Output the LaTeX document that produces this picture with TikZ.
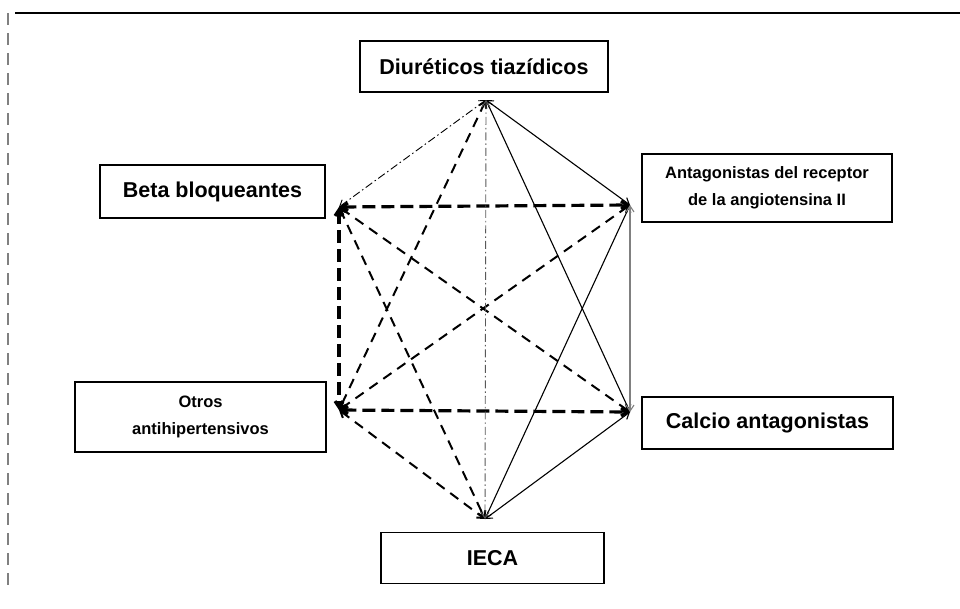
\documentclass[tikz,border=0pt]{standalone}
\usepackage{fontspec}
\setmainfont{Liberation Sans}
\usetikzlibrary{arrows.meta}
\tikzset{every picture/.style={x=1pt,y=-1pt,>={Straight Barb[length=6pt,width=8pt]}},
  box/.style={draw,line width=1.8pt,inner sep=0pt,align=center,font=\fontsize{21.5}{26}\selectfont\bfseries},
  smallbox/.style={box,font=\fontsize{16.5}{27}\selectfont\bfseries},
  heavyline/.style={<->,line width=3.2pt,dash pattern=on 13pt off 6pt},
  dashline/.style={<->,line width=2pt,dash pattern=on 10pt off 7pt},
  plainline/.style={<->,line width=1.1pt},
  dotline/.style={<->,line width=0.9pt,dash pattern=on 8pt off 3pt on 1.5pt off 3pt}}

\begin{document}
\begin{tikzpicture}
            \useasboundingbox (0,0) rectangle (960,608);
            \draw[line width=2.2pt] (15,13) -- (960,13);
            \draw[gray,line width=1.2pt,dash pattern=on 12pt off 8pt] (8,13) -- (8,585);

            \node[box,minimum width=248pt,minimum height=51pt] (diur) at (484,66.5) {Diuréticos tiazídicos};
            \node[box,minimum width=225pt,minimum height=53pt] (beta) at (212.5,191.5) {Beta bloqueantes};
            \node[smallbox,minimum width=250pt,minimum height=68pt] (ara) at (767,188) {Antagonistas del receptor\\de la angiotensina II};
            \node[smallbox,minimum width=251pt,minimum height=70pt] (otros) at (200.5,417) {Otros\\antihipertensivos};
            \node[box,minimum width=251pt,minimum height=52pt] (calcio) at (767.5,423) {Calcio antagonistas};
            \node[box,minimum width=223pt,minimum height=51pt] (ieca) at (492.5,558) {IECA};

            \coordinate (vD) at (486,100);
            \coordinate (vB) at (339,207);
            \coordinate (vA) at (630,205);
            \coordinate (vO) at (339,410);
            \coordinate (vC) at (630,412);
            \coordinate (vI) at (485,519);

            \foreach \from/\to in {vB/vA, vB/vO, vO/vC}
              \draw[heavyline] (\from) -- (\to);
            \foreach \from/\to in {vD/vO, vB/vC, vB/vI, vA/vO, vO/vI}
              \draw[dashline] (\from) -- (\to);
            \foreach \from/\to in {vD/vA, vD/vC, vA/vI, vC/vI}
              \draw[plainline] (\from) -- (\to);
            \draw[dotline] (vD) -- (vB);
            \draw[dotline, gray!70!black] (vD) -- (vI);
            \draw[plainline, gray] (vA) -- (vC);
        \end{tikzpicture}
\end{document}
